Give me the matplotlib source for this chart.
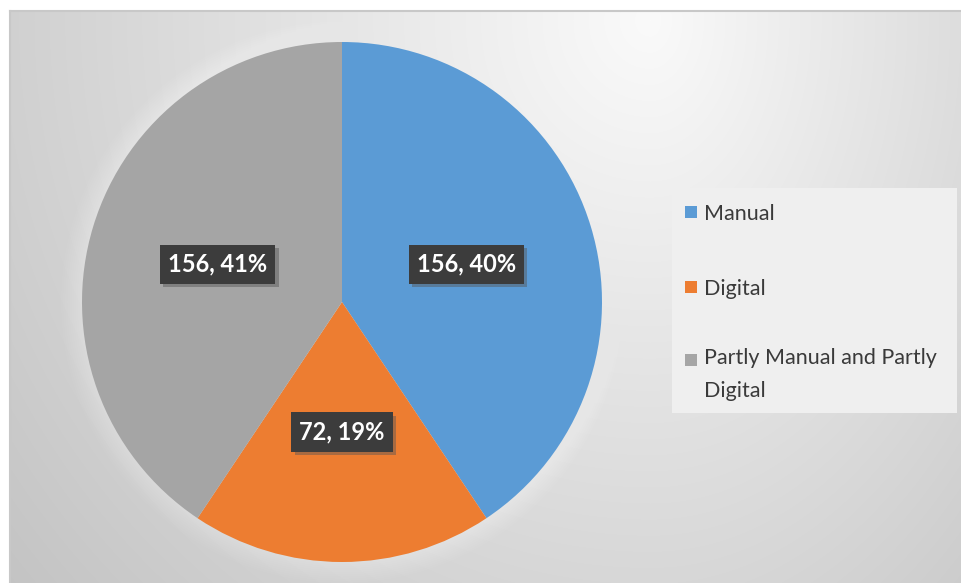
import matplotlib
matplotlib.use("Agg")
from matplotlib import pyplot as plt
from matplotlib.patches import Rectangle, Circle
from matplotlib.lines import Line2D
import matplotlib.patheffects as pe
import numpy as np

categories = ["Manual", "Digital", "Partly Manual and Partly Digital"]
legend_labels = ["Manual", "Digital", "Partly Manual and Partly\nDigital"]
counts = [156, 72, 156]
shown_pct = [40, 19, 41]
colors = ["#5B9BD5", "#ED7D31", "#A5A5A5"]

W, H = 962, 583
fig = plt.figure(figsize=(W / 100, H / 100), dpi=100)
fig.patch.set_facecolor("white")

# background gradient (light spot near top, greyer towards corners)
bx0, by0 = 10, 11
bg = fig.add_axes([bx0 / W, 0, (W - bx0) / W, (H - by0) / H])
xx, yy = np.meshgrid(np.arange(bx0, W), np.arange(by0, H))
sx = np.where(xx < 650, 15.4, 10.7)
d = np.sqrt(((xx - 650) / sx) ** 2 + ((yy - 20) / 16.1) ** 2)
val = np.clip(250 - d, 190, 250) / 255.0
bg.imshow(np.dstack([val, val, val]), aspect="auto", interpolation="bilinear")
bg.axis("off")

fig.add_artist(Line2D([bx0 / W, 1], [1 - by0 / H, 1 - by0 / H], color="#c8c8c8", lw=1.5))
fig.add_artist(Line2D([bx0 / W, bx0 / W], [0, 1 - by0 / H], color="#c8c8c8", lw=1.5))

# pie
cx, cy, r = 342, 302, 260
ax = fig.add_axes([(cx - 1.1 * r) / W, (H - cy - 1.1 * r) / H, 2.2 * r / W, 2.2 * r / H])
ax.set_facecolor("none")
for k in range(10):
    ax.add_patch(Circle((0, 0), 1.0 + 0.008 * (k + 1), color="white", alpha=0.04, lw=0, zorder=0))

labels = [f"{c}, {p}%" for c, p in zip(counts, shown_pct)]
wedges, texts = ax.pie(counts, colors=colors, startangle=90, counterclock=False,
                       labels=labels, labeldistance=0.5,
                       wedgeprops=dict(linewidth=0))
for t in texts:
    t.set_ha("center")
    t.set_va("center")
    t.set_fontfamily("Lato")
    t.set_fontweight("bold")
    t.set_fontsize(17)
    t.set_color("white")
    t.set_bbox(dict(boxstyle="square,pad=0.34", facecolor="#3c3c3c", edgecolor="none"))
    t.get_bbox_patch().set_path_effects([pe.withSimplePatchShadow(offset=(2.5, -2.5), shadow_rgbFace="#555555", alpha=0.45)])
ax.set_xlim(-1.1, 1.1)
ax.set_ylim(-1.1, 1.1)
ax.axis("off")

# legend
lx0, ly0, lx1, ly1 = 672, 188, 957, 413
fig.add_artist(Rectangle((lx0 / W, 1 - ly1 / H), (lx1 - lx0) / W, (ly1 - ly0) / H,
                         transform=fig.transFigure, facecolor="#efefef", edgecolor="none"))
item_y = [212, 287, 360]
for w, lab, y in zip(wedges, legend_labels, item_y):
    fig.add_artist(Rectangle((685 / W, 1 - (y + 6) / H), 12 / W, 12 / H,
                             transform=fig.transFigure, facecolor=w.get_facecolor(), edgecolor="none"))
    if "\n" in lab:
        fig.text(704 / W, 1 - (y - 12) / H, lab, ha="left", va="top",
                 fontsize=15.5, family="Lato", color="#3a3a3a", linespacing=1.8)
    else:
        fig.text(704 / W, 1 - y / H, lab, ha="left", va="center_baseline",
                 fontsize=15.5, family="Lato", color="#3a3a3a")

fig.savefig("out.png", dpi=100)
